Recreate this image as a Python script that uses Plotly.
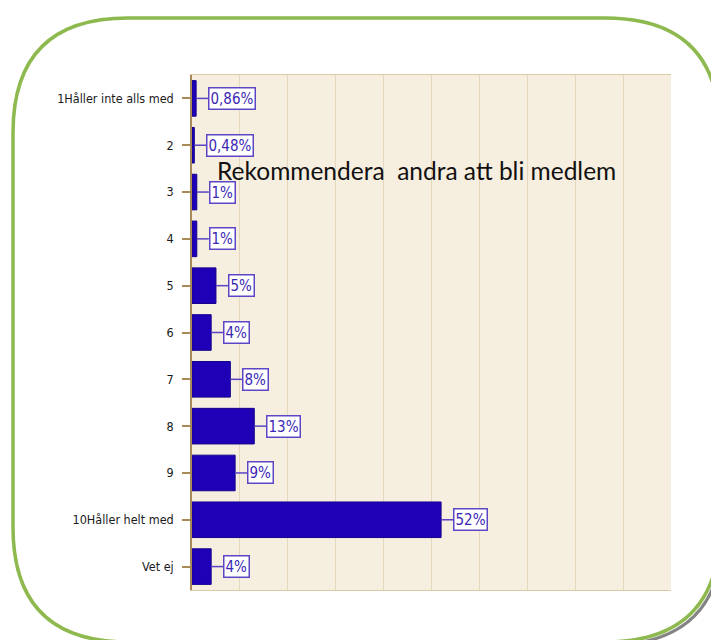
import plotly.graph_objects as go

categories = ["1Håller inte alls med", "2", "3", "4", "5", "6", "7", "8", "9",
              "10Håller helt med", "Vet ej"]
values = [0.86, 0.48, 1, 1, 5, 4, 8, 13, 9, 52, 4]
value_labels = ["0,86%", "0,48%", "1%", "1%", "5%", "4%", "8%", "13%", "9%", "52%", "4%"]
title_text = "Rekommendera  andra att bli medlem"

W, H = 711, 640
px0, px1, py0, py1 = 192, 671, 75, 590
COND = "DejaVu Sans Condensed, Arial"

def fx(p):
    return p / W

def fy(p):
    return 1 - p / H

idx = list(range(len(categories)))

fig = go.Figure()
fig.add_trace(go.Bar(
    x=values, y=idx, orientation="h",
    width=0.76,
    marker=dict(color="#2000B6", line=dict(color="#12008C", width=1)),
    hoverinfo="skip",
))

shapes = []
annotations = []

def P(x, y):
    return f"{fx(x)},{fy(y)}"

def rounded_path(x0, y0, x1, y1, r):
    return (f"M {P(x0+r, y0)} L {P(x1-r, y0)} Q {P(x1, y0)} {P(x1, y0+r)} "
            f"L {P(x1, y1-r)} Q {P(x1, y1)} {P(x1-r, y1)} L {P(x0+r, y1)} "
            f"Q {P(x0, y1)} {P(x0, y1-r)} L {P(x0, y0+r)} Q {P(x0, y0)} {P(x0+r, y0)} Z")

def shadow_path(x0, y0, x1, y1, r):
    return (f"M {P(x1, y0+r)} L {P(x1, y1-r)} Q {P(x1, y1)} {P(x1-r, y1)} "
            f"L {P(x0+r, y1)}")

shapes.append(dict(type="path", xref="paper", yref="paper",
                   path=shadow_path(16, 21, 723, 645, 115),
                   line=dict(color="rgba(110,110,110,0.85)", width=3), layer="below"))
shapes.append(dict(type="path", xref="paper", yref="paper",
                   path=rounded_path(13, 18, 720, 642, 115),
                   line=dict(color="#8DB94E", width=3.5), layer="below"))

for i, v, lab in zip(idx, values, value_labels):
    shapes.append(dict(type="line", xref="x", yref="y", xsizemode="pixel",
                       xanchor=v, x0=0, x1=12, y0=i, y1=i,
                       line=dict(color="#5A44C4", width=1.5), layer="above"))
    annotations.append(dict(x=v, y=i, xref="x", yref="y", text=lab,
                            showarrow=False, xanchor="left", yanchor="middle", xshift=12,
                            bgcolor="white", bordercolor="#5C46C6", borderwidth=1.5,
                            borderpad=1,
                            font=dict(family=COND, size=15, color="#3A28B4")))

annotations.append(dict(x=fx(215), y=fy(170), xref="paper", yref="paper",
                        text=title_text, showarrow=False, xanchor="left", yanchor="middle",
                        font=dict(family="Lato, Open Sans, sans-serif", size=24.5, color="#111111")))

fig.update_layout(
    width=W, height=H,
    margin=dict(l=0, r=0, t=0, b=0),
    paper_bgcolor="white",
    plot_bgcolor="#F6EEDF",
    showlegend=False,
    shapes=shapes,
    annotations=annotations,
    xaxis=dict(domain=[fx(px0), fx(px1)], range=[0, 100], dtick=10,
               showgrid=True, gridcolor="#E4D7BE", gridwidth=1,
               showticklabels=False, zeroline=False,
               showline=True, linecolor="#D9C9A8", linewidth=1, mirror=True,
               automargin=False, fixedrange=True),
    yaxis=dict(domain=[fy(py1), fy(py0)], type="linear",
               range=[len(categories) - 0.5, -0.5],
               tickmode="array", tickvals=idx, ticktext=categories,
               showgrid=False, zeroline=False,
               showline=True, linecolor="#A88A55", linewidth=1.5, mirror=False,
               ticks="outside", ticklen=8, tickcolor="#A88A55", tickwidth=1.5,
               ticklabelstandoff=6,
               tickfont=dict(family=COND, size=12.5, color="#1A1A1A"),
               automargin=False, fixedrange=True),
)

fig.write_html("out.html", config={"displayModeBar": False},
               post_script="document.body.style.margin='0px';")
